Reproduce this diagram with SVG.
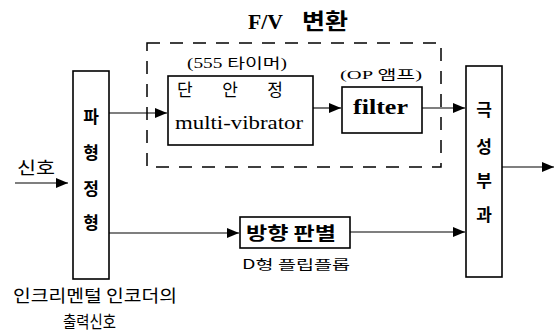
<svg xmlns="http://www.w3.org/2000/svg" width="557" height="331" viewBox="0 0 557 331">
<defs>
<style>
.box{fill:#fff;stroke:#000;stroke-width:1.6}
.dash{fill:none;stroke:#000;stroke-width:1.5;stroke-dasharray:13 10}
.ln{fill:none;stroke:#000;stroke-width:1.1}
.kb{font-family:"Noto Sans CJK KR","Liberation Sans",sans-serif;font-weight:bold;fill:#000}
.kr{font-family:"Noto Sans CJK KR","Liberation Sans",sans-serif;fill:#000}
.sr{font-family:"Liberation Serif","Noto Sans CJK KR",serif;fill:#000}
</style>
<marker id="ah" viewBox="0 0 12 10" refX="12" refY="5" markerWidth="12" markerHeight="10" markerUnits="userSpaceOnUse" orient="auto">
<path d="M0,0 L12,5 L0,10 Z" fill="#000"/>
</marker>
</defs>
<rect width="557" height="331" fill="#fff"/>

<g id="title">
<text x="248" y="29" class="sr" font-size="22" font-weight="bold" textLength="35" lengthAdjust="spacingAndGlyphs">F/V</text>
<text x="302" y="29" class="kb" font-size="22" textLength="46" lengthAdjust="spacingAndGlyphs">변환</text>
</g>

<g id="fv-group">
<rect x="147" y="43" width="294" height="124" class="dash"/>
</g>

<g id="connectors">
<line x1="15" y1="183" x2="68" y2="183" class="ln" marker-end="url(#ah)"/>
<line x1="109" y1="113" x2="167" y2="113" class="ln" marker-end="url(#ah)"/>
<line x1="313" y1="108" x2="341" y2="108" class="ln" marker-end="url(#ah)"/>
<line x1="422" y1="108" x2="465" y2="108" class="ln" marker-end="url(#ah)"/>
<line x1="109" y1="233" x2="239" y2="233" class="ln" marker-end="url(#ah)"/>
<line x1="350" y1="232" x2="465" y2="232" class="ln" marker-end="url(#ah)"/>
<line x1="502" y1="167" x2="554" y2="167" class="ln" marker-end="url(#ah)"/>
</g>

<g id="input-label">
<text x="36" y="166" class="kr" font-size="17" text-anchor="middle" dominant-baseline="central" textLength="38" lengthAdjust="spacingAndGlyphs">신호</text>
</g>

<g id="shaper">
<rect x="73" y="71" width="36" height="208" class="box"/>
<text x="91" y="115" class="kb" font-size="17" text-anchor="middle" dominant-baseline="central">파</text>
<text x="91" y="151" class="kb" font-size="17" text-anchor="middle" dominant-baseline="central">형</text>
<text x="91" y="187" class="kb" font-size="17" text-anchor="middle" dominant-baseline="central">정</text>
<text x="91" y="221" class="kb" font-size="17" text-anchor="middle" dominant-baseline="central">형</text>
</g>

<g id="encoder-label">
<text x="13" y="294" class="kr" font-size="17" dominant-baseline="central" textLength="164" lengthAdjust="spacingAndGlyphs">인크리멘털 인코더의</text>
<text x="63" y="320" class="kr" font-size="17" dominant-baseline="central" textLength="53" lengthAdjust="spacingAndGlyphs">출력신호</text>
</g>

<g id="monostable">
<text x="237" y="63" class="sr" font-size="14" text-anchor="middle" dominant-baseline="central" textLength="100" lengthAdjust="spacingAndGlyphs">(555 타이머)</text>
<rect x="168" y="76" width="145" height="69" class="box"/>
<text x="177" y="88" class="kr" font-size="17" dominant-baseline="central" textLength="106" lengthAdjust="spacing">단 안 정</text>
<text x="175" y="122" class="sr" font-size="19" dominant-baseline="central" textLength="128" lengthAdjust="spacingAndGlyphs">multi-vibrator</text>
</g>

<g id="filter">
<text x="381" y="74" class="sr" font-size="13" text-anchor="middle" dominant-baseline="central" textLength="82" lengthAdjust="spacingAndGlyphs">(OP 앰프)</text>
<rect x="342" y="87" width="80" height="46" class="box"/>
<text x="353" y="107" class="sr" font-size="21" font-weight="bold" dominant-baseline="central" textLength="55" lengthAdjust="spacingAndGlyphs">filter</text>
</g>

<g id="direction">
<rect x="240" y="217" width="110" height="31" class="box"/>
<text x="291" y="232" class="kb" font-size="18" text-anchor="middle" dominant-baseline="central" textLength="90" lengthAdjust="spacingAndGlyphs">방향 판별</text>
<text x="242" y="263" class="kr" font-size="13" dominant-baseline="central" textLength="108" lengthAdjust="spacingAndGlyphs">D형 플립플롭</text>
</g>

<g id="polarity">
<rect x="466" y="66" width="36" height="211" class="box"/>
<text x="484" y="108" class="kb" font-size="17" text-anchor="middle" dominant-baseline="central">극</text>
<text x="484" y="145" class="kb" font-size="17" text-anchor="middle" dominant-baseline="central">성</text>
<text x="484" y="179" class="kb" font-size="17" text-anchor="middle" dominant-baseline="central">부</text>
<text x="484" y="213" class="kb" font-size="17" text-anchor="middle" dominant-baseline="central">과</text>
</g>
</svg>
